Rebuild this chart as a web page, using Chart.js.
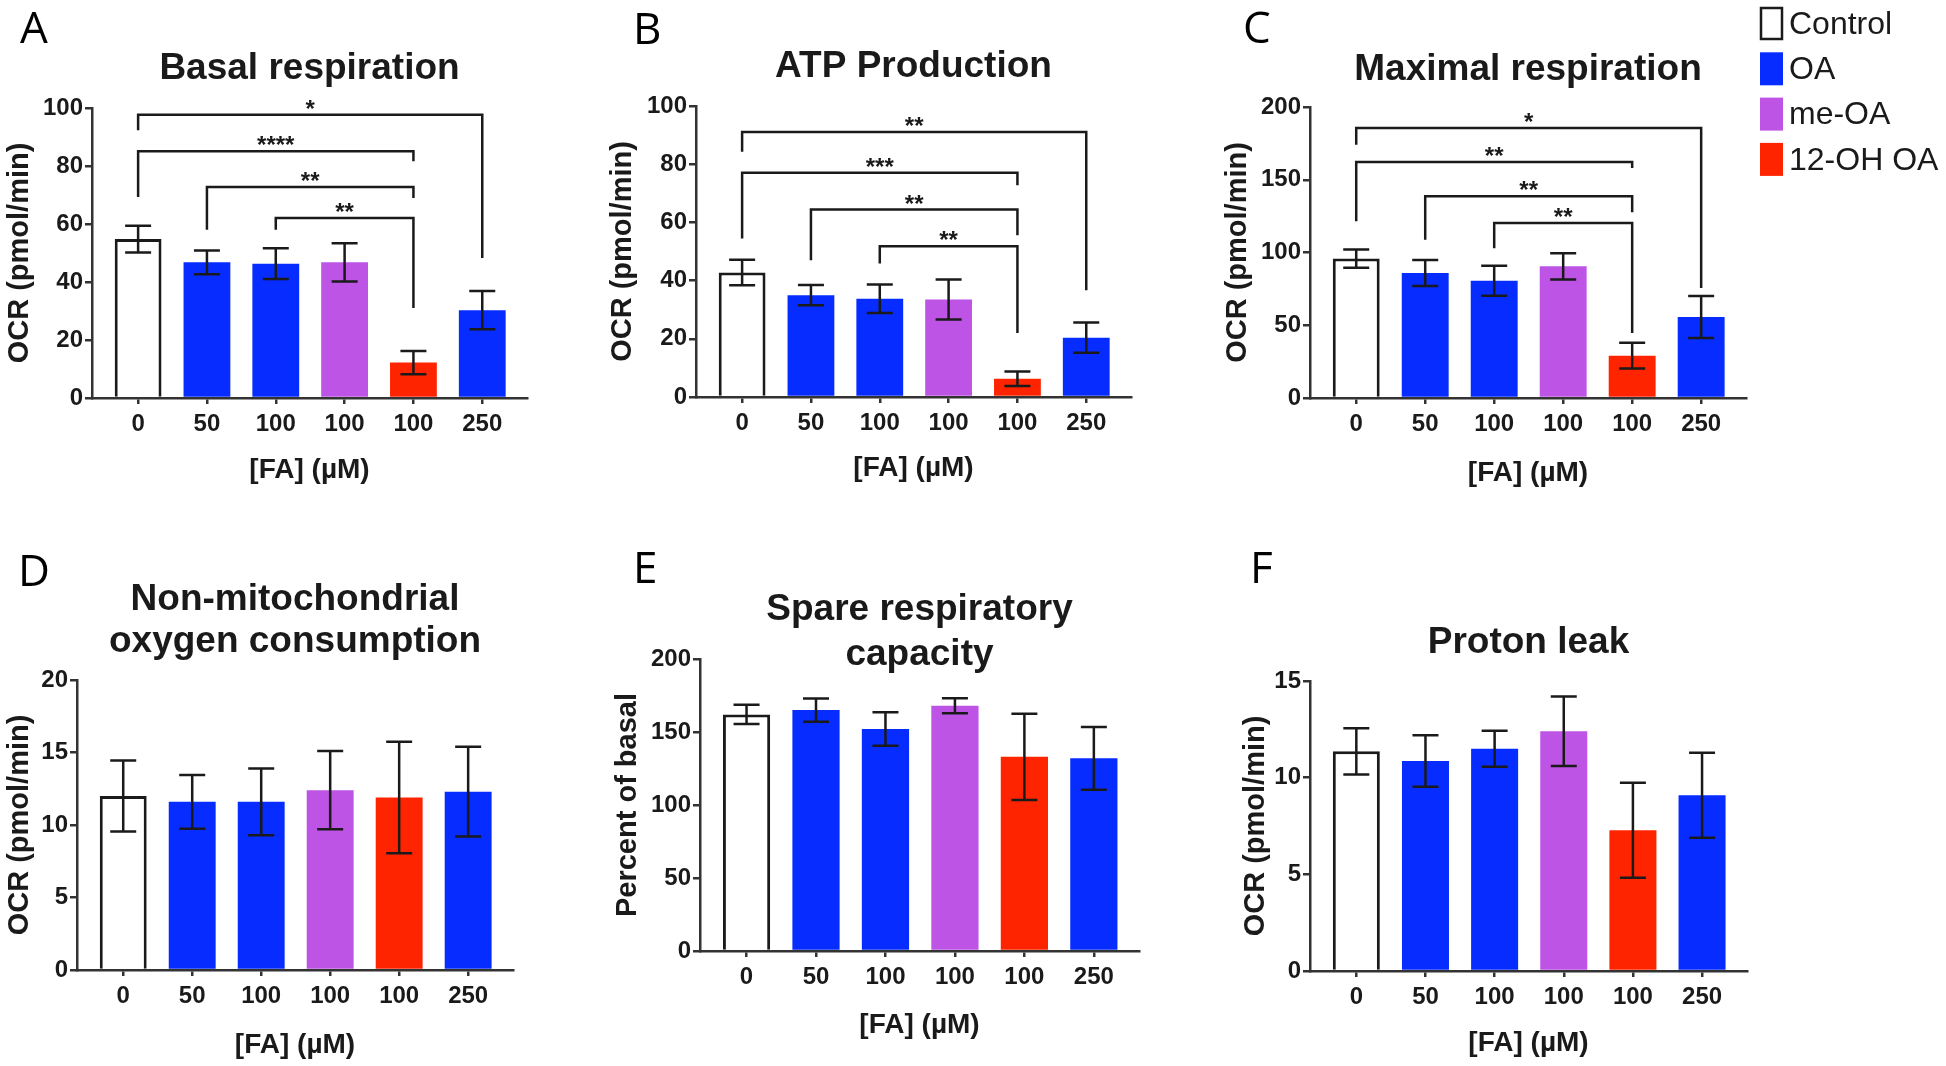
<!DOCTYPE html>
<html lang="en">
<head>
<meta charset="UTF-8">
<title>OCR parameters</title>
<script src="https://cdn.jsdelivr.net/npm/chart.js"></script>
<style>
  body { margin: 0; background: #fff; }
  #figure { position: relative; width: 1946px; height: 1066px; }
  #figure canvas { position: absolute; }
</style>
</head>
<body>
<div id="figure">
  <canvas id="chartA" width="600" height="520" style="left:0;top:0"></canvas>
  <canvas id="chartB" width="600" height="520" style="left:600px;top:0"></canvas>
  <canvas id="chartC" width="746" height="520" style="left:1200px;top:0"></canvas>
  <canvas id="chartD" width="600" height="546" style="left:0;top:520px"></canvas>
  <canvas id="chartE" width="600" height="546" style="left:600px;top:520px"></canvas>
  <canvas id="chartF" width="746" height="546" style="left:1200px;top:520px"></canvas>
</div>

<script>
// x categories: fatty acid dose, and which treatment each bar is
const doses = ['0', '50', '100', '100', '100', '250'];
const groups = ['Control', 'OA', 'OA', 'me-OA', '12-OH OA', 'OA'];
const legendGroups = ['Control', 'OA', 'me-OA', '12-OH OA'];

// mean and SEM per panel
const basalMean = [54.8, 46.8, 46.3, 46.8, 12.2, 30.3];
const basalSem = [4.6, 4.1, 5.3, 6.6, 4.0, 6.6];
const atpMean = [42.8, 35.0, 33.8, 33.5, 6.3, 20.4];
const atpSem = [4.4, 3.5, 4.9, 6.9, 2.5, 5.2];
const maxMean = [95.8, 85.9, 80.6, 90.5, 29.1, 55.7];
const maxSem = [6.3, 8.9, 10.3, 9.0, 8.9, 14.4];
const nonMitoMean = [12.0, 11.6, 11.6, 12.4, 11.9, 12.3];
const nonMitoSem = [2.45, 1.85, 2.3, 2.7, 3.85, 3.1];
const spareMean = [162, 165, 152, 168, 133, 132];
const spareSem = [6.6, 7.9, 11.5, 5.2, 29.5, 21.5];
const leakMean = [11.36, 10.86, 11.5, 12.4, 7.28, 9.09];
const leakSem = [1.2, 1.33, 0.93, 1.8, 2.46, 2.2];

// significance brackets: [from bar, to bar, line level, left leg end, right leg end, stars]
const basalBrackets = [
  [0, 5, 97.7, 92.3, 48.3, '*'],
  [0, 4, 85.1, 69.3, 81.6, '****'],
  [1, 4, 72.8, 58.0, 69.0, '**'],
  [2, 4, 62.1, 58.0, 31.0, '**']
];
const atpBrackets = [
  [0, 5, 91.1, 84.3, 36.7, '**'],
  [0, 4, 77.1, 54.5, 72.8, '***'],
  [1, 4, 64.4, 47.0, 55.6, '**'],
  [2, 4, 51.8, 45.9, 22.0, '**']
];
const maxBrackets = [
  [0, 5, 185.6, 174, 75.6, '*'],
  [0, 4, 162.2, 121.4, 158, '**'],
  [1, 4, 138.6, 108.8, 127.6, '**'],
  [2, 4, 120.3, 103, 44.7, '**']
];

const fills = { 'Control': '#ffffff', 'OA': '#062cff', 'me-OA': '#bd54e5', '12-OH OA': '#ff2400' };
const ink = '#1a1a1a';
const axisInk = '#333';
const sans = "'Liberation Sans', Arimo, Arial, Helvetica, sans-serif";

// error bars, brackets, panel letters, titles and the legend
const extras = {
  id: 'extras',
  afterDatasetsDraw(chart, args, o) {
    const { ctx, scales: { x, y } } = chart;
    ctx.save();
    ctx.strokeStyle = ink;
    ctx.lineWidth = 2.5;
    o.mean.forEach((m, i) => {
      const px = x.getPixelForValue(i);
      const hi = y.getPixelForValue(m + o.sem[i]);
      const lo = y.getPixelForValue(m - o.sem[i]);
      ctx.beginPath();
      ctx.moveTo(px, hi); ctx.lineTo(px, lo);
      ctx.moveTo(px - 13, hi); ctx.lineTo(px + 13, hi);
      ctx.moveTo(px - 13, lo); ctx.lineTo(px + 13, lo);
      ctx.stroke();
    });
    ctx.fillStyle = ink;
    ctx.font = 'bold 24px ' + sans;
    ctx.textAlign = 'center';
    ctx.textBaseline = 'alphabetic';
    (o.brackets || []).forEach(([a, b, level, endA, endB, stars]) => {
      const xa = x.getPixelForValue(a), xb = x.getPixelForValue(b);
      const py = y.getPixelForValue(level);
      ctx.beginPath();
      ctx.moveTo(xa, y.getPixelForValue(endA));
      ctx.lineTo(xa, py);
      ctx.lineTo(xb, py);
      ctx.lineTo(xb, y.getPixelForValue(endB));
      ctx.stroke();
      ctx.fillText(stars, (xa + xb) / 2, py + 2);
    });
    ctx.restore();
  },
  afterDraw(chart, args, o) {
    const { ctx, chartArea } = chart;
    ctx.save();
    ctx.fillStyle = '#000';
    ctx.font = "44px 'Open Sans', 'Noto Sans', sans-serif";
    ctx.textAlign = 'left';
    ctx.textBaseline = 'alphabetic';
    ctx.fillText(o.letter, o.letterX, o.letterY);

    ctx.fillStyle = ink;
    ctx.font = 'bold 37px ' + sans;
    ctx.textAlign = 'center';
    ctx.textBaseline = 'middle';
    const cx = (chartArea.left + chartArea.right) / 2;
    o.title.forEach((line, k) => ctx.fillText(line, cx, o.titleY + k * o.titleGap));

    if (o.legend) {
      ctx.font = '32px ' + sans;
      ctx.textAlign = 'left';
      legendGroups.forEach((g, k) => {
        const top = 7 + k * 45.3;
        if (g === 'Control') {
          ctx.fillStyle = '#fff';
          ctx.fillRect(561, top + 1, 21, 31);
          ctx.strokeStyle = ink;
          ctx.lineWidth = 2.5;
          ctx.strokeRect(561, top + 1, 21, 31);
        } else {
          ctx.fillStyle = fills[g];
          ctx.fillRect(560, top, 23, 33);
        }
        ctx.fillStyle = ink;
        ctx.fillText(g, 589, top + 18);
      });
    }
    ctx.restore();
  }
};

function makePanel(id, p) {
  const tickFont = { family: sans, size: 24, weight: 'bold' };
  const titleFont = { family: sans, size: 29, weight: 'bold' };
  return new Chart(document.getElementById(id), {
    type: 'bar',
    data: {
      datasets: [{
        data: p.mean.map((v, i) => ({ x: i, y: v })),
        backgroundColor: groups.map(g => fills[g]),
        borderColor: ink,
        borderWidth: groups.map(g => g === 'Control' ? 3 : 0),
        borderSkipped: 'start',
        categoryPercentage: 1,
        barPercentage: 0.68
      }]
    },
    options: {
      responsive: false,
      animation: false,
      layout: { padding: { left: 0, top: p.top, right: p.right, bottom: 0 } },
      plugins: {
        legend: { display: false },
        tooltip: { enabled: false },
        extras: {
          mean: p.mean, sem: p.sem, brackets: p.brackets,
          letter: p.letter, letterX: p.letterX, letterY: p.letterY,
          title: p.title, titleY: p.titleY, titleGap: p.titleGap || 0,
          legend: !!p.legend
        }
      },
      scales: {
        x: {
          type: 'linear',
          min: -0.67,
          max: 5.65,
          offset: false,
          afterBuildTicks: s => { s.ticks = doses.map((d, i) => ({ value: i })); },
          afterFit: s => { s.height = p.xHeight; },
          ticks: {
            autoSkip: false, maxRotation: 0, padding: 6,
            color: ink, font: tickFont,
            callback: (v, i) => doses[i]
          },
          grid: { drawOnChartArea: false, drawTicks: true, tickLength: 6, offset: false, color: axisInk, lineWidth: 2.5 },
          border: { display: true, color: axisInk, width: 2.5 },
          title: { display: true, text: '[FA] (µM)', color: ink, font: { family: sans, size: 28, weight: 'bold' }, padding: { top: 0, bottom: p.xTitlePad } }
        },
        y: {
          min: 0,
          max: p.max,
          afterFit: s => { s.width = p.yWidth; },
          ticks: { stepSize: p.step, padding: 2, color: ink, font: tickFont },
          grid: { drawOnChartArea: false, drawTicks: true, tickLength: 7, color: axisInk, lineWidth: 2.5 },
          border: { display: true, color: axisInk, width: 2.5 },
          title: { display: true, text: p.yTitle, color: ink, font: titleFont, padding: { top: p.yTitlePad, bottom: 0 } }
        }
      }
    },
    plugins: [extras]
  });
}

makePanel('chartA', {
  mean: basalMean, sem: basalSem, brackets: basalBrackets, max: 100, step: 20,
  letter: 'A', letterX: 20, letterY: 43, title: ['Basal respiration'], titleY: 69,
  yTitle: 'OCR (pmol/min)', yTitlePad: 2.6, yWidth: 92, top: 108, right: 73, xHeight: 122, xTitlePad: 33
});
makePanel('chartB', {
  mean: atpMean, sem: atpSem, brackets: atpBrackets, max: 100, step: 20,
  letter: 'B', letterX: 33, letterY: 44, title: ['ATP Production'], titleY: 67,
  yTitle: 'OCR (pmol/min)', yTitlePad: 5.6, yWidth: 96, top: 106, right: 69, xHeight: 123, xTitlePad: 35
});
makePanel('chartC', {
  mean: maxMean, sem: maxSem, brackets: maxBrackets, max: 200, step: 50,
  letter: 'C', letterX: 43, letterY: 43, title: ['Maximal respiration'], titleY: 70,
  yTitle: 'OCR (pmol/min)', yTitlePad: 20.6, yWidth: 110, top: 107, right: 200, xHeight: 122, xTitlePad: 30,
  legend: true
});
makePanel('chartD', {
  mean: nonMitoMean, sem: nonMitoSem, max: 20, step: 5,
  letter: 'D', letterX: 18, letterY: 66, title: ['Non-mitochondrial', 'oxygen consumption'], titleY: 80, titleGap: 42,
  yTitle: 'OCR (pmol/min)', yTitlePad: 2.6, yWidth: 77, top: 160, right: 87, xHeight: 96, xTitlePad: 4
});
makePanel('chartE', {
  mean: spareMean, sem: spareSem, max: 200, step: 50,
  letter: 'E', letterX: 33, letterY: 63, title: ['Spare respiratory', 'capacity'], titleY: 90, titleGap: 45,
  yTitle: 'Percent of basal', yTitlePad: 10.6, yWidth: 100, top: 139, right: 61, xHeight: 115, xTitlePad: 24
});
makePanel('chartF', {
  mean: leakMean, sem: leakSem, max: 15, step: 5,
  letter: 'F', letterX: 50, letterY: 63, title: ['Proton leak'], titleY: 123,
  yTitle: 'OCR (pmol/min)', yTitlePad: 38.6, yWidth: 110, top: 161, right: 199, xHeight: 95, xTitlePad: 6
});
</script>
</body>
</html>
